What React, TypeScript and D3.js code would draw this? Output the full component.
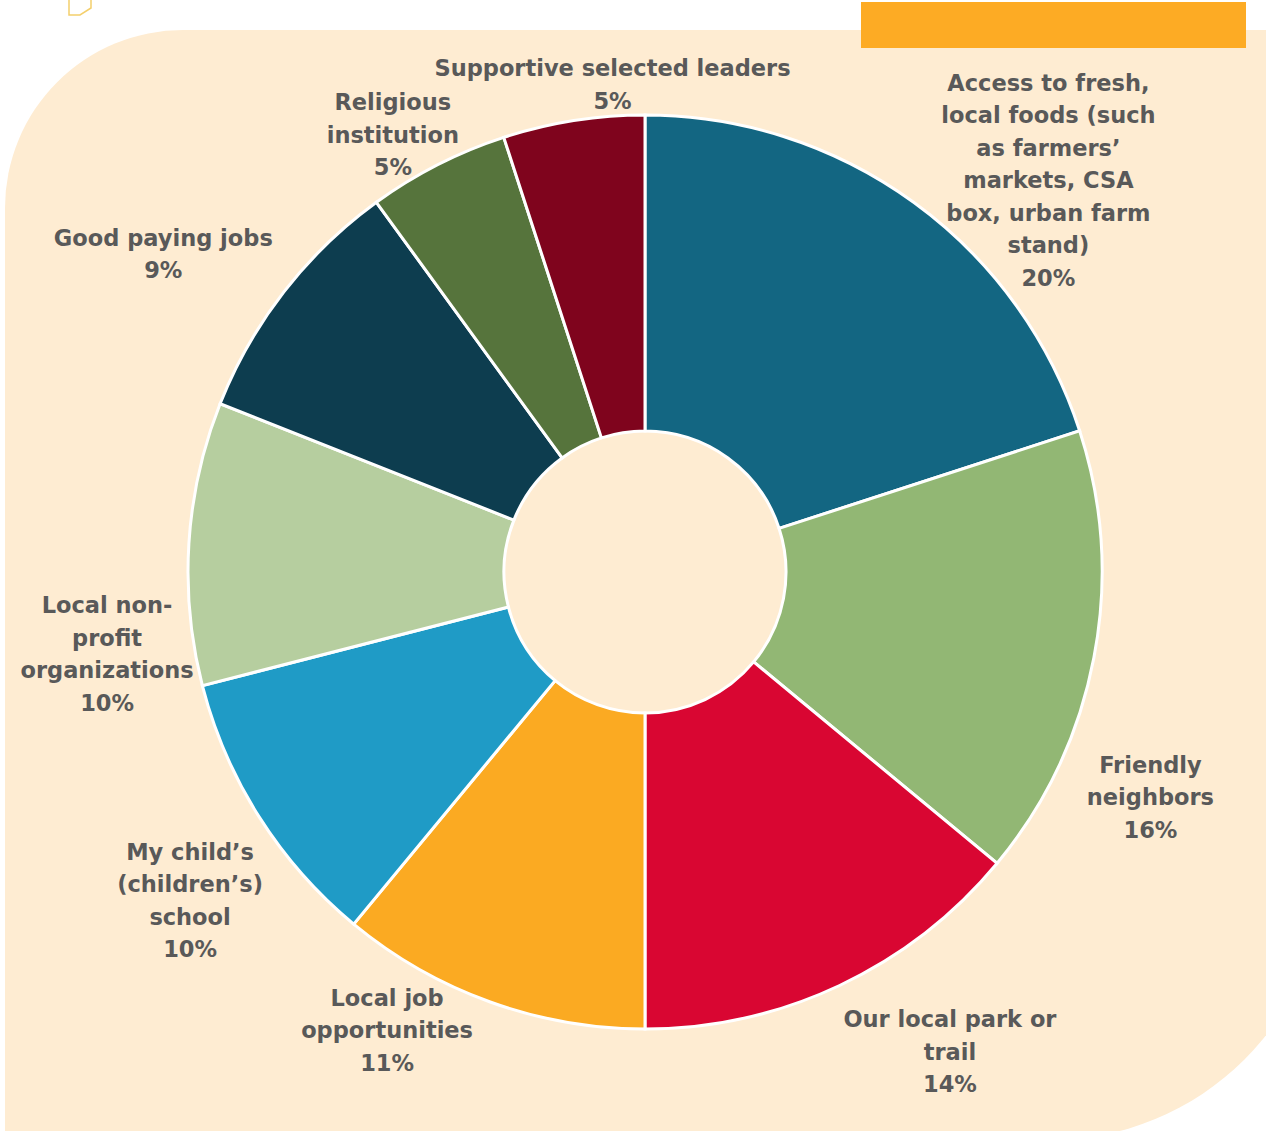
import { useMemo } from "react";
import * as d3 from "d3";

// survey answers, clockwise from 12 o'clock
const categories = [
  "Access to fresh,\nlocal foods (such\nas farmers’\nmarkets, CSA\nbox, urban farm\nstand)",
  "Friendly\nneighbors",
  "Our local park or\ntrail",
  "Local job\nopportunities",
  "My child’s\n(children’s)\nschool",
  "Local non-\nprofit\norganizations",
  "Good paying jobs",
  "Religious\ninstitution",
  "Supportive selected leaders",
];
const shares = [20, 16, 14, 11, 10, 10, 9, 5, 5];
const sliceColors = [
  "#136682",
  "#92B774",
  "#D90632",
  "#FBAA22",
  "#1F9BC6",
  "#B6CE9F",
  "#0D3D4F",
  "#56743C",
  "#7F041D",
];

const W = 1266;
const H = 1131;
const cx = 645;
const cy = 572;
const outerR = 457;
const innerR = 141;
const labelR = 540;
const lineH = 32.5;

// Excel "best fit" pushes labels around, so each one gets a nudge off its centroid
const labelNudge: [number, number][] = [
  [86, 45],
  [-25, 124],
  [75, -9],
  [-75, -50],
  [1, 39],
  [1, 116],
  [-55, 13],
  [-7, 44],
  [52, 46],
];

interface Slice {
  name: string;
  value: number;
  color: string;
}

const App = () => {
  const data: Slice[] = categories.map((name, i) => ({
    name,
    value: shares[i],
    color: sliceColors[i],
  }));

  const arcs = useMemo(
    () =>
      d3
        .pie<Slice>()
        .sort(null)
        .value((d) => d.value)(data),
    []
  );

  const arc = d3.arc<d3.PieArcDatum<Slice>>().innerRadius(innerR).outerRadius(outerR);
  const labelArc = d3.arc<d3.PieArcDatum<Slice>>().innerRadius(labelR).outerRadius(labelR);

  // background card: rounded top-left and a big rounded bottom-right
  const bg = d3.path();
  bg.moveTo(5, 208);
  bg.arcTo(5, 30, 183, 30, 178);
  bg.lineTo(1325, 30);
  bg.lineTo(1325, 865);
  bg.arcTo(1325, 1140, 1050, 1140, 275);
  bg.lineTo(5, 1140);
  bg.closePath();

  return (
    <div style={{ position: "absolute", left: 0, top: 0 }}>
      <svg width={W} height={H} style={{ display: "block" }}>
        <rect width={W} height={H} fill="#ffffff" />
        <path d={bg.toString()} fill="#FEECD2" />
        <path d="M69,0 V15 H80 L91,8 V0" fill="none" stroke="#F4CF6C" strokeWidth={1.5} />
        <rect x={861} y={2} width={385} height={46} fill="#FDAB24" />

        <g transform={`translate(${cx},${cy})`}>
          {arcs.map((a, i) => (
            <path key={i} d={arc(a) ?? ""} fill={a.data.color} stroke="#ffffff" strokeWidth={3} />
          ))}
          {arcs.map((a, i) => {
            const [lx, ly] = labelArc.centroid(a);
            const lines = [...a.data.name.split("\n"), `${a.data.value}%`];
            const x = lx + labelNudge[i][0];
            const y0 = ly + labelNudge[i][1] - ((lines.length - 1) / 2) * lineH + 8;
            return (
              <text
                key={"l" + i}
                x={x}
                y={y0}
                textAnchor="middle"
                fill="#595959"
                fontFamily="'Century Gothic', 'DejaVu Sans', sans-serif"
                fontWeight="bold"
                fontSize={22.5}
              >
                {lines.map((t, j) => (
                  <tspan key={j} x={x} y={y0 + j * lineH}>
                    {t}
                  </tspan>
                ))}
              </text>
            );
          })}
        </g>
      </svg>
    </div>
  );
};

export default App;
